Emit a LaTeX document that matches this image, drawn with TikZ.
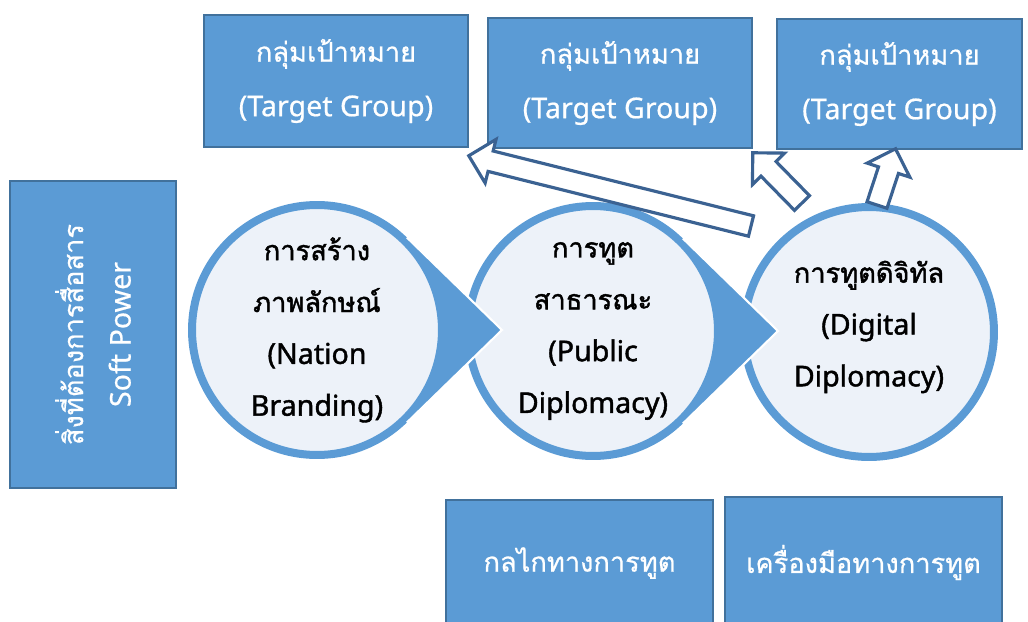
\documentclass[tikz,border=0pt]{standalone}
\usepackage{fontspec}
\setmainfont{Noto Sans}[Scale=1.05, FakeBold=0.6]
\newfontfamily\thaifont[Script=Thai, FakeBold=0.6]{Loma}
\newfontfamily\thaiheavy[Script=Thai, FakeBold=1.6]{Loma}
\newfontfamily\latinheavy{Noto Sans}[Scale=1.05, FakeBold=1.4]
\usetikzlibrary{calc}

\definecolor{boxblue}{HTML}{5B9BD5}
\definecolor{boxline}{HTML}{41719C}
\definecolor{bubblefill}{HTML}{EDF2F9}
\definecolor{arrowline}{HTML}{3B6292}

\tikzset{
  box/.style={rectangle, draw=boxline, line width=0.9pt, fill=boxblue, text=white,
    align=center, inner sep=0pt, font=\fontsize{15.5pt}{31pt}\selectfont},
  bubble/.style={circle, draw=boxblue, line width=0.16cm, fill=bubblefill,
    minimum size=5cm, inner sep=0pt},
  bubbletext/.style={align=center, text=black, font=\fontsize{15.5pt}{29.5pt}\selectfont\latinheavy},
  hollowarrow/.style={draw=arrowline, line width=1.8pt, fill=white, line join=miter},
}

% hollow block arrow from tail #1 to tip #2
\newcommand{\blockarrow}[2]{
  \coordinate (hb) at ($(#2)!0.45cm!(#1)$);
  \draw[hollowarrow] ($(#1)!0.21cm!90:(#2)$) -- ($(hb)!0.21cm!90:(#2)$)
    -- ($(hb)!0.45cm!90:(#2)$) -- (#2) -- ($(hb)!0.45cm!-90:(#2)$)
    -- ($(hb)!0.21cm!-90:(#2)$) -- ($(#1)!0.21cm!-90:(#2)$) -- cycle;
}

% solid wedge on the right side of a bubble, tangent to its rim
\newcommand{\bubblewedge}[1]{
  \fill[boxblue] ($(#1)+(45.8:129)$) -- ($(#1)+(185,0)$) -- ($(#1)+(-45.8:129)$)
    -- ($(#1)+(-45.8:123)$) arc[start angle=-45.8, end angle=45.8, radius=123] -- cycle;
  \draw[white, line width=1.2pt] ($(#1)+(45.8:129)$) -- ($(#1)+(185,0)$) -- ($(#1)+(-45.8:129)$);
}

\begin{document}
\begin{tikzpicture}[x=0.02cm, y=-0.02cm]
\useasboundingbox (0,0) rectangle (1028,622);

% Target group boxes
\node[box, minimum width=5.28cm, minimum height=2.64cm] (tg1) at (336,81) {{\thaifont กลุ่มเป้าหมาย}\\(Target Group)};
\node[box, minimum width=5.28cm, minimum height=2.60cm] (tg2) at (620,83) {{\thaifont กลุ่มเป้าหมาย}\\(Target Group)};
\node[box, minimum width=4.90cm, minimum height=2.60cm] (tg3) at (899.5,84) {{\thaifont กลุ่มเป้าหมาย}\\(Target Group)};

% Soft power box
\node[box, rotate=90, minimum width=6.14cm, minimum height=3.32cm] (soft) at (93,334.5) {{\thaifont สิ่งที่ต้องการสื่อสาร}\\[-4pt]Soft Power};

% Bottom boxes
\node[box, minimum width=5.34cm, minimum height=2.52cm] (mech) at (579.5,563) {{\thaifont กลไกทางการทูต}};
\node[box, minimum width=5.54cm, minimum height=2.62cm] (tools) at (863.5,562.5) {{\thaifont เครื่องมือทางการทูต}};

% Bubbles
\node[bubble] (c1) at (317,330) {};
\node[bubble] (c2) at (593,331) {};
\node[bubble] (c3) at (869,332) {};
\bubblewedge{c1}
\bubblewedge{c2}

\node[bubbletext] (c1 text) at (c1) {{\thaiheavy การสร้าง}\\{\thaiheavy ภาพลักษณ์}\\(Nation\\Branding)};
\node[bubbletext] (c2 text) at (c2) {{\thaiheavy การทูต}\\{\thaiheavy สาธารณะ}\\(Public\\Diplomacy)};
\node[bubbletext] (c3 text) at ($(c3)+(0,-5)$) {{\thaiheavy การทูตดิจิทัล}\\(Digital\\Diplomacy)};

% Arrows up to the target groups
\coordinate (a1 tail) at (751,226);
\coordinate (a1 tip) at ($(tg1.south east)+(0,8)$);
\coordinate (a2 tail) at (802,203);
\coordinate (a2 tip) at ($(tg2.south east)+(0,4)$);
\coordinate (a3 tail) at (877,205);
\coordinate (a3 tip) at ($(tg3.south)+(-4,-1)$);
\blockarrow{a1 tail}{a1 tip}
\blockarrow{a2 tail}{a2 tip}
\blockarrow{a3 tail}{a3 tip}

\end{tikzpicture}
\end{document}
